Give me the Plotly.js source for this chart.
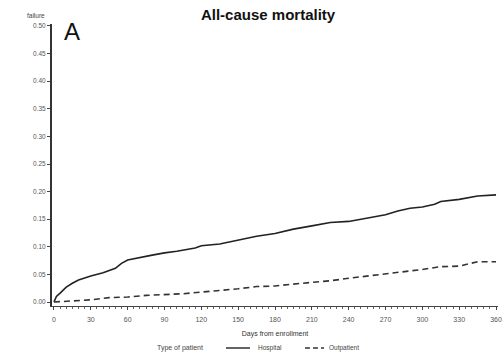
<!DOCTYPE html>
<html>
<head>
<meta charset="utf-8">
<script src="https://cdn.plot.ly/plotly-3.0.1.min.js"></script>
<style>html,body{margin:0;padding:0;background:#fff}#chart{width:502px;height:357px}</style>
</head>
<body>
<div id="chart"></div>
<script>
const hospitalDays = [0, 2, 5, 10, 15, 20, 30, 40, 50, 55, 60, 70, 80, 90, 100, 115, 120, 135, 150, 165, 180, 195, 210, 225, 240, 255, 270, 280, 290, 300, 310, 315, 330, 345, 355, 360];
const hospitalFailure = [0.000, 0.010, 0.016, 0.027, 0.034, 0.040, 0.047, 0.053, 0.061, 0.070, 0.076, 0.081, 0.085, 0.089, 0.092, 0.098, 0.102, 0.105, 0.112, 0.119, 0.124, 0.132, 0.138, 0.144, 0.146, 0.152, 0.158, 0.165, 0.170, 0.172, 0.177, 0.182, 0.186, 0.192, 0.194, 0.194];
const outpatientDays = [0, 10, 30, 45, 60, 75, 90, 105, 120, 135, 150, 165, 180, 195, 210, 225, 240, 255, 270, 285, 300, 315, 330, 345, 360];
const outpatientFailure = [0.000, 0.001, 0.004, 0.008, 0.009, 0.012, 0.013, 0.015, 0.018, 0.0205, 0.024, 0.028, 0.029, 0.0325, 0.035, 0.0385, 0.043, 0.047, 0.0505, 0.055, 0.059, 0.064, 0.065, 0.073, 0.073];
const xTicks = [0, 30, 60, 90, 120, 150, 180, 210, 240, 270, 300, 330, 360];
const yTicks = [0, 0.05, 0.10, 0.15, 0.20, 0.25, 0.30, 0.35, 0.40, 0.45, 0.50];
const seriesNames = ['Hospital', 'Outpatient'];
const legendTitle = 'Type of patient';

const font = "Liberation Sans, Arial, sans-serif";
const hospStyle = {color: '#222', width: 1.6, dash: 'solid'};
const outStyle = {color: '#333', width: 1.6, dash: '6px,4px'};
const traces = [
  {x: hospitalDays, y: hospitalFailure, name: seriesNames[0], mode: 'lines', line: hospStyle},
  {x: outpatientDays, y: outpatientFailure, name: seriesNames[1], mode: 'lines', line: outStyle}
];
// legend placement in paper coords (plot area: x 52..498, y 24..306)
const px = v => (v - 52) / 446;
const py = v => (306 - v) / 282;
const legY = py(348);
const layout = {
  width: 502, height: 357,
  margin: {l: 52, r: 4, t: 24, b: 51},
  paper_bgcolor: '#fff', plot_bgcolor: '#fff',
  font: {family: font, color: '#444', size: 7},
  title: {text: '<b>All-cause mortality</b>', x: 0.534, xanchor: 'center', y: 0.958, yanchor: 'middle',
          font: {family: font, size: 15, color: '#111'}},
  xaxis: {range: [-1.6, 361.6], tickvals: xTicks, ticktext: xTicks.map(String),
          showgrid: false, zeroline: false, showline: true, linecolor: '#444', linewidth: 1.2,
          ticks: 'outside', ticklen: 3, tickcolor: '#444', tickwidth: 1,
          ticklabelstandoff: 3,
          minor: {dtick: 5, tick0: 0, ticks: 'outside', ticklen: 2, tickcolor: '#666', showgrid: false},
          tickfont: {size: 7, color: '#555'},
          title: {text: 'Days from enrollment', font: {size: 7, color: '#333'}, standoff: 9}},
  yaxis: {range: [-0.0072, 0.5036], tickvals: yTicks, ticktext: yTicks.map(v => v.toFixed(2)),
          showgrid: false, zeroline: false, showline: true, linecolor: '#333', linewidth: 2,
          ticks: 'outside', ticklen: 3, tickcolor: '#444', tickwidth: 1,
          tickfont: {size: 6.5, color: '#555'}},
  showlegend: false,
  shapes: [
    {type: 'line', xref: 'paper', yref: 'paper', x0: px(226), x1: px(250), y0: legY, y1: legY,
     line: {color: hospStyle.color, width: 1.4, dash: 'solid'}},
    {type: 'line', xref: 'paper', yref: 'paper', x0: px(305), x1: px(324), y0: legY, y1: legY,
     line: {color: outStyle.color, width: 1.4, dash: '5px,3px'}}
  ],
  annotations: [
    {xref: 'paper', yref: 'paper', x: px(36), y: py(16), xanchor: 'center', yanchor: 'middle',
     text: 'failure', showarrow: false, font: {size: 6.5, color: '#444'}},
    {xref: 'paper', yref: 'paper', x: 0.045, y: 0.975, xanchor: 'center', yanchor: 'middle',
     text: 'A', showarrow: false, font: {size: 24, color: '#111', family: font}},
    {xref: 'paper', yref: 'paper', x: px(155), y: legY, xanchor: 'left', yanchor: 'middle',
     text: legendTitle, showarrow: false, font: {size: 7, color: '#444'}},
    {xref: 'paper', yref: 'paper', x: px(256), y: legY, xanchor: 'left', yanchor: 'middle',
     text: seriesNames[0], showarrow: false, font: {size: 6.5, color: '#444'}},
    {xref: 'paper', yref: 'paper', x: px(327), y: legY, xanchor: 'left', yanchor: 'middle',
     text: seriesNames[1], showarrow: false, font: {size: 6.5, color: '#444'}}
  ]
};
Plotly.newPlot('chart', traces, layout, {staticPlot: true, displayModeBar: false});
</script>
</body>
</html>
